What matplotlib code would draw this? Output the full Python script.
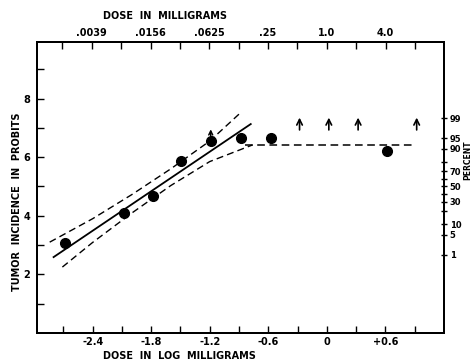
import math
import statistics
import matplotlib
matplotlib.use("Agg")
import matplotlib.pyplot as plt

# observed points (log mg, probit)
dose_log = [-2.68, -2.08, -1.78, -1.49, -1.19, -0.88, -0.57, 0.62]
probit = [3.07, 4.10, 4.68, 5.87, 6.55, 6.65, 6.65, 6.21]

# up arrows (values above 99%)
arrow_x = [-0.28, 0.02, 0.32, 0.92]
arrow_y0 = [6.93, 6.93, 6.93, 6.93]
arrow_y1 = [7.35, 7.35, 7.35, 7.35]
small_arrow_x = [-1.19]
small_arrow_y0 = [6.62]
small_arrow_y1 = [6.95]

# fitted regression line and plateau
fit_x = [-2.80, -0.78]
fit_y = [2.59, 7.13]
plateau_x = [-0.84, 0.90]
plateau_y = [6.42, 6.42]

# confidence band
upper_x = [-2.84, -2.4, -2.0, -1.6, -1.2, -0.89]
upper_y = [3.10, 3.90, 4.72, 5.60, 6.55, 7.50]
lower_x = [-2.71, -2.4, -2.0, -1.6, -1.2, -0.76]
lower_y = [2.25, 3.09, 4.09, 5.03, 5.85, 6.42]

bottom_ticks = [-2.7, -2.4, -2.1, -1.8, -1.5, -1.2, -0.9, -0.6, -0.3, 0.0, 0.3, 0.6, 0.9]
bottom_labels = ["", "-2.4", "", "-1.8", "", "-1.2", "", "-0.6", "", "0", "", "+0.6", ""]
top_mg = [2.0 ** k for k in range(-9, 4)]
top_labels = ["", ".0039", "", ".0156", "", ".0625", "", ".25", "", "1.0", "", "4.0", ""]
pct_ticks = [99, 95, 90, 80, 70, 60, 50, 40, 30, 20, 10, 5, 1]
pct_labels = ["99", "95", "90", "", "70", "", "50", "", "30", "", "10", "5", "1"]

plt.rcParams["font.family"] = "DejaVu Sans"
plt.rcParams["font.weight"] = "bold"

fig = plt.figure(figsize=(4.74, 3.64), dpi=100)
ax = fig.add_axes([37 / 474, 1 - 333 / 364, 407 / 474, 291 / 364])

dash = (0, (5, 3))
ax.plot(fit_x, fit_y, color="black", lw=1.3)
ax.plot(plateau_x, plateau_y, color="black", lw=1.1, ls=dash)
ax.plot(upper_x, upper_y, color="black", lw=1.0, ls=dash)
ax.plot(lower_x, lower_y, color="black", lw=1.0, ls=dash)
ax.plot(dose_log, probit, "o", color="black", ms=7)

for x, y0, y1 in zip(arrow_x, arrow_y0, arrow_y1):
    ax.annotate("", xy=(x, y1), xytext=(x, y0),
                arrowprops=dict(arrowstyle="->", lw=1.2, color="black",
                                mutation_scale=10, shrinkA=0, shrinkB=0))
for x, y0, y1 in zip(small_arrow_x, small_arrow_y0, small_arrow_y1):
    ax.annotate("", xy=(x, y1), xytext=(x, y0),
                arrowprops=dict(arrowstyle="->", lw=1.1, color="black",
                                mutation_scale=7, shrinkA=0, shrinkB=0))

ax.set_xlim(-2.97, 1.2)
ax.set_ylim(0, 9.93)
ax.set_xticks(bottom_ticks)
ax.set_xticklabels(bottom_labels)
ax.set_yticks(range(1, 10))
ax.set_yticklabels(["", "2", "", "4", "", "6", "", "8", ""])
ax.tick_params(axis="x", direction="in", length=5, width=1, labelsize=7, pad=3)
ax.tick_params(axis="y", direction="in", length=5, width=1, labelsize=7, pad=5)
ax.set_xlabel("DOSE  IN  LOG  MILLIGRAMS", fontsize=7, fontweight="bold")
ax.xaxis.set_label_coords(0.35, -0.062)
ax.set_ylabel("TUMOR  INCIDENCE  IN  PROBITS", fontsize=7, fontweight="bold")
ax.yaxis.set_label_coords(-0.038, 0.45)

top = ax.twiny()
top.set_xlim(ax.get_xlim())
top.set_xticks([math.log10(m) for m in top_mg])
top.set_xticklabels(top_labels)
top.tick_params(direction="in", length=5, width=1, labelsize=7, pad=3)
top.set_xlabel("DOSE  IN  MILLIGRAMS", fontsize=7, fontweight="bold")
top.xaxis.set_label_coords(0.315, 1.078)

right = ax.twinx()
right.set_ylim(ax.get_ylim())
nd = statistics.NormalDist()
right.set_yticks([5 + nd.inv_cdf(p / 100) for p in pct_ticks])
right.set_yticklabels(pct_labels)
right.tick_params(direction="inout", length=5, width=1, labelsize=6, pad=1.5)
fig.text(468 / 474, 1 - 160 / 364, "PERCENT", fontsize=5.5, fontweight="bold",
         rotation=90, ha="center", va="center")

for a in (ax, top, right):
    for s in a.spines.values():
        s.set_linewidth(1.3)

fig.savefig("out.png", dpi=100)
